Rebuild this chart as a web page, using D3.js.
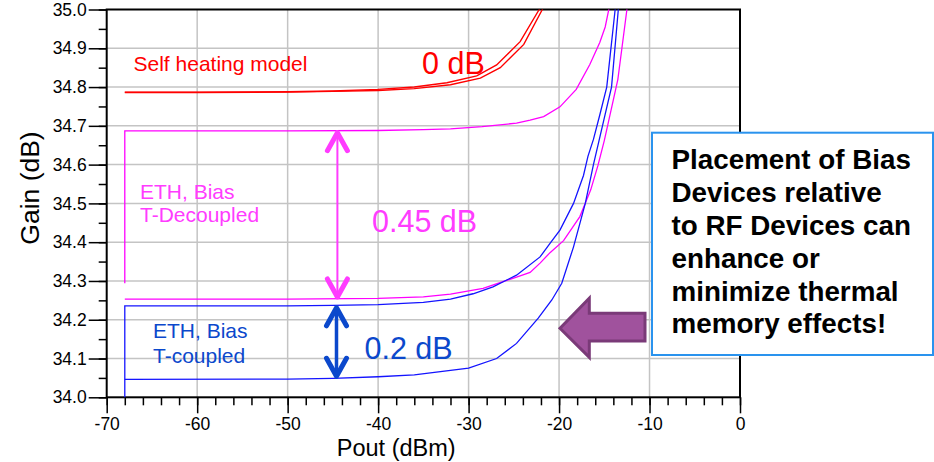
<!DOCTYPE html>
<html lang="en">
    <head>
        <meta charset="utf-8">
        <title>Gain vs Pout - thermal memory</title>
        <script type="text/javascript" src="https://d3js.org/d3.v7.min.js"></script>
        <style type="text/css">
            body {
                margin: 0;
                background-color: white;
                overflow: hidden;
            }
            svg {
                font-family: "Liberation Sans", Arial, Helvetica, sans-serif;
            }
            .tick_label {
                font-size: 17.5px;
                fill: #000;
            }
            .axis_title {
                font-size: 23.5px;
                fill: #000;
            }
            .note {
                font-size: 21px;
            }
            .delta {
                font-size: 30.5px;
            }
            .box_text {
                font-size: 27.8px;
                font-weight: bold;
                fill: #000;
            }
        </style>
    </head>
    <body>
        <svg width="934" height="462" id="svg1"></svg>

        <script type="text/javascript">

            // ----- data -----
            // x = Pout (dBm), y = Gain (dB)
            const xTicks = [-70, -60, -50, -40, -30, -20, -10, 0];
            const yTicks = [34.0, 34.1, 34.2, 34.3, 34.4, 34.5, 34.6, 34.7, 34.8, 34.9, 35.0];

            // self heating model (two almost identical traces)
            const selfHeatA = [[-68, 34.787], [-60, 34.787], [-50, 34.788], [-45, 34.790], [-40, 34.794], [-36, 34.800],
                [-32.4, 34.811], [-29.1, 34.829], [-26.9, 34.857], [-24.3, 34.917], [-22.2, 35.0], [-21.8, 35.03]];
            const selfHeatB = [[-68, 34.786], [-60, 34.786], [-50, 34.787], [-45, 34.789], [-40, 34.791], [-36, 34.796],
                [-32.0, 34.806], [-28.7, 34.823], [-26.5, 34.850], [-23.9, 34.910], [-21.85, 35.0], [-21.4, 35.03]];

            // ETH, bias T-decoupled
            const decoupledHi = [[-68, 34.294], [-68, 34.687], [-50, 34.687], [-40, 34.688], [-35, 34.690], [-32, 34.692],
                [-28.5, 34.698], [-24.7, 34.707], [-23.2, 34.715], [-21.7, 34.724], [-19.9, 34.749], [-18.1, 34.794],
                [-16.6, 34.858], [-15.5, 34.915], [-14.9, 34.955], [-14.5, 35.0], [-14.2, 35.05]];
            const decoupledLo = [[-68, 34.253], [-50, 34.253], [-40, 34.255], [-35, 34.259], [-32, 34.266], [-28.4, 34.281],
                [-24.7, 34.310], [-23.2, 34.322], [-22.1, 34.346], [-21.0, 34.373], [-19.5, 34.404], [-17.7, 34.466],
                [-16.5, 34.535], [-15.7, 34.598], [-15.0, 34.662], [-14.0, 34.767], [-13.5, 34.82], [-12.5, 35.0], [-12.2, 35.05]];

            // ETH, bias T-coupled
            const coupledHi = [[-68, 33.98], [-68, 34.236], [-50, 34.236], [-45, 34.237], [-40, 34.239], [-35, 34.245],
                [-32, 34.253], [-29.5, 34.267], [-27.3, 34.285], [-24.7, 34.315], [-22.1, 34.362], [-21.0, 34.397],
                [-19.9, 34.431], [-18.4, 34.50], [-17.3, 34.572], [-16.8, 34.622], [-16.2, 34.665], [-15.5, 34.728],
                [-14.73, 34.80], [-13.8, 35.0], [-13.5, 35.06]];
            const coupledLo = [[-68, 34.046], [-50, 34.047], [-45, 34.049], [-40, 34.053], [-36, 34.058], [-30, 34.075],
                [-26.9, 34.100], [-24.7, 34.139], [-22.3, 34.204], [-20.8, 34.251], [-19.7, 34.294], [-18.4, 34.388],
                [-17.1, 34.50], [-16.2, 34.60], [-15.6, 34.66], [-14.9, 34.73], [-14.2, 34.80], [-13.45, 35.0], [-13.2, 35.05]];

            const boxLines = ["Placement of Bias", "Devices relative", "to RF Devices can", "enhance or", "minimize thermal", "memory effects!"];

            // ----- layout -----
            const svg = d3.select("#svg1");
            const mLeft = 106.7, mRight = 740, mTop = 9.5, mBottom = 397.3;

            const x = d3.scaleLinear().domain([-70, 0]).range([mLeft, mRight]);
            const y = d3.scaleLinear().domain([34.0, 35.0]).range([mBottom, mTop]);

            const RED = "#ff0000", MAG = "#ff00ff", MAG_T = "#ff3cff", BLUE = "#1414ff", BLUE_T = "#0b48cc";

            // clip for the traces
            svg.append("clipPath").attr("id", "plotClip")
                .append("rect")
                .attr("x", mLeft).attr("y", mTop)
                .attr("width", mRight - mLeft).attr("height", mBottom - mTop);

            // grid
            const grid = svg.append("g");
            grid.selectAll(".gx")
                .data(xTicks.slice(1, -1))
                .enter()
                .append("line")
                .attr("x1", d => x(d)).attr("x2", d => x(d))
                .attr("y1", mTop).attr("y2", mBottom)
                .style("stroke", "#c4c4c4")
                .style("stroke-width", 1.5);
            grid.selectAll(".gy")
                .data(yTicks.slice(1, -1))
                .enter()
                .append("line")
                .attr("x1", mLeft).attr("x2", mRight)
                .attr("y1", d => y(d)).attr("y2", d => y(d))
                .style("stroke", "#c4c4c4")
                .style("stroke-width", 1.5);

            // axes with minor ticks
            const xMinor = d3.range(-70, 0.01, 2);
            const yMinor = d3.range(34.0, 35.001, 0.05);

            const xAxisMinor = d3.axisBottom(x).tickValues(xMinor).tickSize(8).tickFormat("");
            const xAxis = d3.axisBottom(x).tickValues(xTicks).tickSize(16).tickPadding(4).tickFormat(d3.format("d"));
            const yAxisMinor = d3.axisLeft(y).tickValues(yMinor).tickSize(8).tickFormat("");
            const yAxis = d3.axisLeft(y).tickValues(yTicks).tickSize(18).tickPadding(2).tickFormat(d3.format(".1f"));

            [xAxisMinor, xAxis].forEach(a => {
                svg.append("g")
                    .attr("transform", `translate(0,${mBottom})`)
                    .call(a)
                    .call(g => g.select(".domain").remove());
            });
            [yAxisMinor, yAxis].forEach(a => {
                svg.append("g")
                    .attr("transform", `translate(${mLeft},0)`)
                    .call(a)
                    .call(g => g.select(".domain").remove());
            });
            svg.selectAll(".tick line").style("stroke", "#000").style("stroke-width", 1.5);
            svg.selectAll(".tick text")
                .attr("class", "tick_label")
                .style("font-family", "'Liberation Sans', Arial, sans-serif")
                .style("font-size", "17.5px")
                .text(function() { return this.textContent.replace("\u2212", "-"); });

            // frame
            svg.append("rect")
                .attr("x", mLeft).attr("y", mTop)
                .attr("width", mRight - mLeft).attr("height", mBottom - mTop)
                .style("fill", "none")
                .style("stroke", "#000")
                .style("stroke-width", 2);

            // axis titles
            svg.append("text")
                .attr("class", "axis_title")
                .attr("x", x(-38)).attr("y", 456)
                .attr("text-anchor", "middle")
                .text("Pout (dBm)");
            svg.append("text")
                .attr("class", "axis_title")
                .style("font-size", "26.5px")
                .attr("transform", `translate(39,188) rotate(-90)`)
                .attr("text-anchor", "middle")
                .text("Gain (dB)");

            // traces
            const line = d3.line().x(d => x(d[0])).y(d => y(d[1]));
            const traces = [
                {data: selfHeatA, color: RED, w: 1.4},
                {data: selfHeatB, color: RED, w: 1.4},
                {data: decoupledHi, color: MAG, w: 1.3},
                {data: decoupledLo, color: MAG, w: 1.3},
                {data: coupledHi, color: BLUE, w: 1.3},
                {data: coupledLo, color: BLUE, w: 1.3}
            ];
            svg.append("g")
                .attr("clip-path", "url(#plotClip)")
                .selectAll("path")
                .data(traces)
                .enter()
                .append("path")
                .attr("d", d => line(d.data))
                .style("fill", "none")
                .style("stroke", d => d.color)
                .style("stroke-width", d => d.w);

            // double headed arrows
            function dblArrow(xv, y1v, y2v, color, shaftW) {
                const xp = x(xv), ya = y(y1v), yb = y(y2v);
                const g = svg.append("g")
                    .style("stroke", color)
                    .style("fill", "none")
                    .style("stroke-linecap", "round")
                    .style("stroke-linejoin", "round");
                g.append("line")
                    .attr("x1", xp).attr("x2", xp)
                    .attr("y1", ya + 2).attr("y2", yb - 2)
                    .style("stroke-width", shaftW);
                g.append("path")
                    .attr("d", `M${xp - 10},${ya + 20} L${xp},${ya + 2} L${xp + 10},${ya + 20}`)
                    .style("stroke-width", 5);
                g.append("path")
                    .attr("d", `M${xp - 10},${yb - 20} L${xp},${yb - 2} L${xp + 10},${yb - 20}`)
                    .style("stroke-width", 5);
            }
            dblArrow(-44.5, 34.6875, 34.2535, MAG_T, 2);
            dblArrow(-44.6, 34.236, 34.049, BLUE_T, 3.5);

            // curve labels
            function label(lines, xp, yp, color, cls, lh) {
                const t = svg.append("text")
                    .attr("class", cls)
                    .style("fill", color);
                lines.forEach((s, i) => {
                    t.append("tspan")
                        .attr("x", xp)
                        .attr("y", yp + i * lh)
                        .text(s);
                });
            }
            label(["Self heating model"], 133.5, 71, RED, "note", 0);
            label(["0 dB"], 422, 74, RED, "delta", 0);
            label(["ETH, Bias", "T-Decoupled"], 140, 199, MAG_T, "note", 22.7);
            label(["0.45 dB"], 372, 231.5, MAG_T, "delta", 0);
            label(["ETH, Bias", "T-coupled"], 153, 338.3, BLUE_T, "note", 24.4);
            label(["0.2 dB"], 364.5, 359.3, BLUE_T, "delta", 0);

            // block arrow pointing at the curves
            svg.append("path")
                .attr("d", "M560,328.3 L589.3,298.3 L589.3,313.3 L645,313.3 L645,341 L589.3,341 L589.3,357.3 Z")
                .style("fill", "#a0529d")
                .style("stroke", "#7a3a78")
                .style("stroke-width", 3)
                .style("stroke-linejoin", "miter");

            // callout box
            svg.append("rect")
                .attr("x", 652).attr("y", 132.7)
                .attr("width", 281).attr("height", 222.3)
                .style("fill", "white")
                .style("stroke", "#2a93ee")
                .style("stroke-width", 2);
            label(boxLines, 671.5, 169.3, "#000", "box_text", 32.8);

        </script>
    </body>
</html>
